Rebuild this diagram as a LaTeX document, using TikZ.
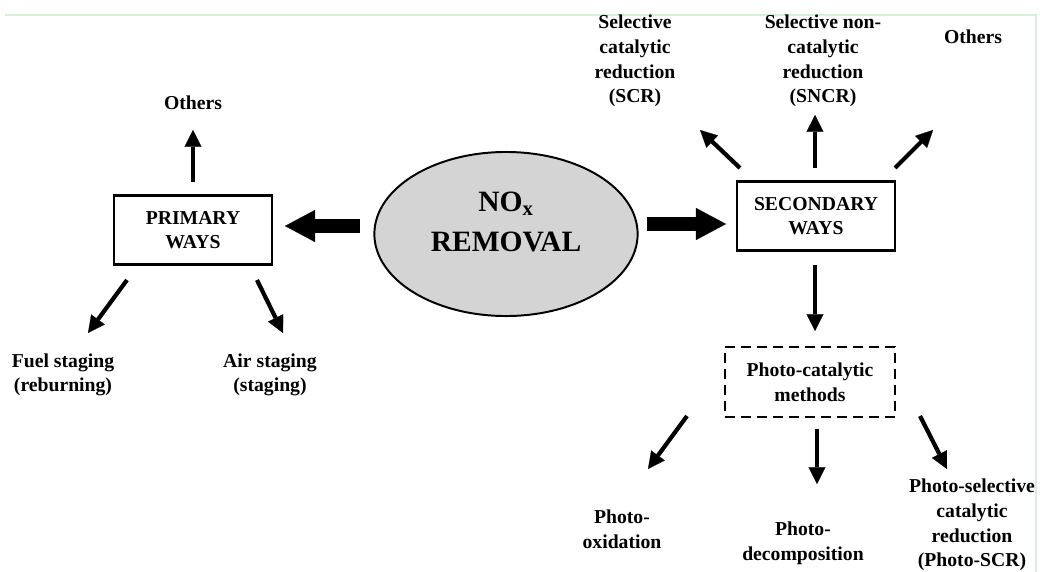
\documentclass[tikz,border=0pt]{standalone}
\usepackage{fontspec}
\setmainfont{Liberation Serif}
\usetikzlibrary{arrows.meta,shapes.geometric}
\definecolor{framegreen}{RGB}{214,240,214}
\definecolor{coregray}{RGB}{212,212,212}
\tikzset{
  lbl/.style={font=\bfseries\fontsize{14}{17.5}\selectfont, align=center, inner sep=1pt},
  waybox/.style={draw, line width=1.8pt, minimum width=3.95cm, minimum height=1.73cm, lbl},
  thinarrow/.style={line width=3pt, -{Triangle[length=0.42cm,width=0.42cm,line width=0.1pt]}},
  fatarrow/.style={line width=0.33cm, -{Triangle[length=0.75cm,width=0.8cm,line width=0.1pt]}},
}
\begin{document}
\begin{tikzpicture}[x=0.025cm,y=-0.025cm]
\useasboundingbox (0,0) rectangle (1040,572);
\draw[framegreen, line width=1pt] (5,15) -- (1036,15) -- (1036,572);

% centre
\node[draw, ellipse, line width=1.4pt, fill=coregray, minimum width=6.58cm, minimum height=4.1cm] (core) at (506,234) {};
\node[font=\bfseries\fontsize{21}{29}\selectfont, align=center] (coretxt) at (506,222) {NO\textsubscript{x}\\REMOVAL};

% primary ways
\node[waybox] (prim) at (193,230) {PRIMARY\\WAYS};
\node[lbl] (othL) at (193,103) {Others};
\node[lbl] (fuel) at (63,375) {Fuel staging\\(reburning)};
\node[lbl] (air) at (270,375) {Air staging\\(staging)};

% secondary ways
\node[waybox] (sec) at (816,216) {SECONDARY\\WAYS};
\node[lbl] (scr) at (635,61) {Selective\\catalytic\\reduction\\(SCR)};
\node[lbl] (sncr) at (823,61) {Selective non-\\catalytic\\reduction\\(SNCR)};
\node[lbl] (othR) at (973,37) {Others};

% photo-catalytic
\node[draw, dashed, dash pattern=on 0.25cm off 0.15cm, line width=1.8pt, minimum width=4.25cm, minimum height=1.75cm, lbl] (photo) at (810,382) {Photo-catalytic\\methods};
\node[lbl] (pox) at (622,529) {Photo-\\oxidation};
\node[lbl] (pdec) at (803,543) {Photo-\\decomposition};
\node[lbl] (pscr) at (972,525) {Photo-selective\\catalytic\\reduction\\(Photo-SCR)};

% arrow ends
\coordinate (l0) at (360,226); \coordinate (l1) at (285,226);
\coordinate (r0) at (647,224); \coordinate (r1) at (726,224);
\coordinate (a0) at (193,182); \coordinate (a1) at (193,130);
\coordinate (b0) at (127,280); \coordinate (b1) at (88,333);
\coordinate (c0) at (257,280); \coordinate (c1) at (283,333);
\coordinate (d0) at (740,168); \coordinate (d1) at (700,130);
\coordinate (e0) at (815,168); \coordinate (e1) at (815,115);
\coordinate (f0) at (895,168); \coordinate (f1) at (933,130);
\coordinate (g0) at (815,265); \coordinate (g1) at (815,331);
\coordinate (h0) at (687,416); \coordinate (h1) at (648,469);
\coordinate (i0) at (817,429); \coordinate (i1) at (817,484);
\coordinate (j0) at (920,416); \coordinate (j1) at (947,469);

\path[draw,fatarrow] (l0) -- (l1);
\path[draw,fatarrow] (r0) -- (r1);
\path[draw,thinarrow] (a0) -- (a1);
\path[draw,thinarrow] (b0) -- (b1);
\path[draw,thinarrow] (c0) -- (c1);
\path[draw,thinarrow] (d0) -- (d1);
\path[draw,thinarrow] (e0) -- (e1);
\path[draw,thinarrow] (f0) -- (f1);
\path[draw,thinarrow] (g0) -- (g1);
\path[draw,thinarrow] (h0) -- (h1);
\path[draw,thinarrow] (i0) -- (i1);
\path[draw,thinarrow] (j0) -- (j1);
\end{tikzpicture}
\end{document}
